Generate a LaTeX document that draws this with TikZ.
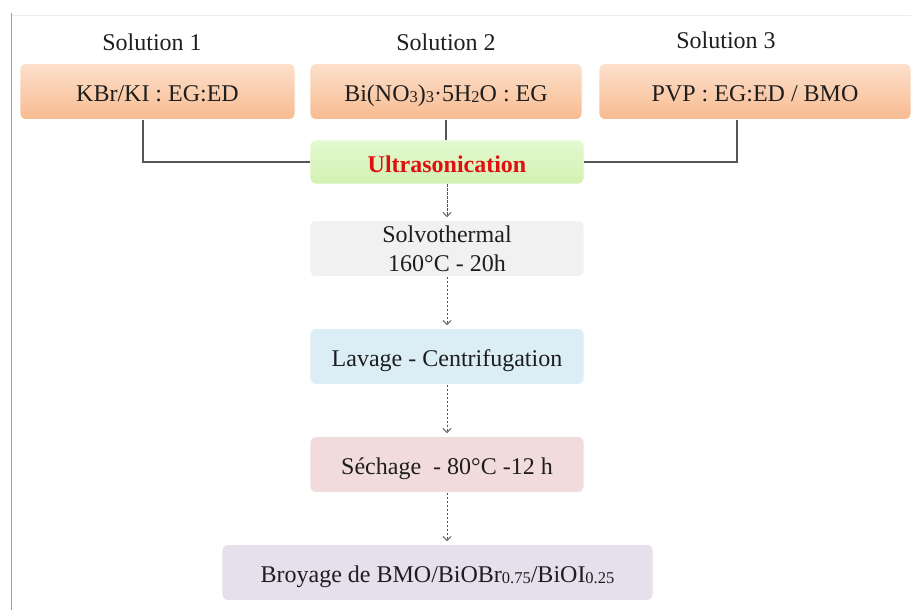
\documentclass[tikz,border=0pt]{standalone}
\usepackage{fontspec}
\setmainfont{Liberation Serif}
\usetikzlibrary{arrows.meta}
\definecolor{orTop}{HTML}{FCE0CC}
\definecolor{orBot}{HTML}{F8BB90}
\definecolor{grTop}{HTML}{E4F9D0}
\definecolor{grBot}{HTML}{D2F1B2}
\definecolor{svFill}{HTML}{F1F1F1}
\definecolor{lvFill}{HTML}{DBEEF5}
\definecolor{seFill}{HTML}{F2DCDB}
\definecolor{brFill}{HTML}{E5E0EC}
\definecolor{txt}{HTML}{1E1E1E}
\definecolor{usRed}{HTML}{E01010}
\definecolor{lineGray}{HTML}{555555}
\newcommand{\lowsub}[1]{\raisebox{-1pt}{\fontsize{16.5}{16.5}\selectfont #1}}
\begin{document}
\begin{tikzpicture}[x=1pt,y=-1pt,
  every node/.style={text=txt,font=\fontsize{24}{29}\selectfont},
  box/.style={rectangle,rounded corners=6pt,draw=white,line width=0.8pt,inner sep=0pt,minimum height=56pt},
  oneline/.style={text height=19.5pt,text depth=0pt},
  orbox/.style={box,oneline,top color=orTop,bottom color=orBot,minimum width=#1},
  flowbox/.style={box,minimum width=274pt},
  lbl/.style={inner sep=0pt},
  conn/.style={draw=lineGray,line width=1.1pt},
  flow/.style={draw=lineGray,line width=0.9pt,dash pattern=on 2.5pt off 1.5pt,-{Straight Barb[length=4pt,width=8pt,line width=0.9pt]},shorten >=3pt}
]
\useasboundingbox (0,0) rectangle (911,610);
\fill[white] (0,0) rectangle (911,610);
% frame lines
\coordinate (ftl) at (11,15);
\coordinate (ftr) at (911,15);
\coordinate (fbl) at (11,610);
\draw[gray!15,line width=0.8pt] (ftl) -- (ftr);
\draw[gray!75,line width=0.9pt] ([yshift=2pt]ftl) -- (fbl);
% solution labels
\node[lbl] (s1) at (152,42) {Solution 1};
\node[lbl] (s2) at (446,42) {Solution 2};
\node[lbl] (s3) at (726,40) {Solution 3};
% solution boxes
\node[orbox=275pt] (b1) at (157.5,91.5) {KBr/KI : EG:ED};
\node[orbox=272pt] (b2) at (446,91.5) {Bi(NO\lowsub{3})\lowsub{3}·5H\lowsub{2}O : EG};
\node[orbox=312pt] (b3) at (755,91.5) {PVP : EG:ED / BMO};
% process boxes
\node[flowbox,oneline,text height=20pt,minimum height=44pt,top color=grTop,bottom color=grBot] (us) at (447,162)
  {\textcolor{usRed}{\textbf{Ultrasonication}}};
\node[flowbox,fill=svFill,align=center,minimum height=56pt] (sv) at (447,248.5) {Solvothermal\\160°C - 20h};
\node[flowbox,oneline,fill=lvFill] (lv) at (447,356.5) {Lavage - Centrifugation};
\node[flowbox,oneline,fill=seFill] (se) at (447,464.5) {Séchage \ - 80°C -12 h};
\node[box,oneline,minimum width=431pt,fill=brFill] (br) at (437.5,572.5)
  {Broyage de BMO/BiOBr\lowsub{0.75}/BiOI\lowsub{0.25}};
% connectors
\draw[conn] ([xshift=-14.5pt]b1.south) |- (us.west);
\draw[conn] (b2.south) -- (b2.south |- us.north);
\draw[conn] ([xshift=-18pt]b3.south) |- (us.east);
\draw[flow] (us.south) -- (us.south |- sv.north);
\draw[flow] (sv.south) -- (sv.south |- lv.north);
\draw[flow] (lv.south) -- (lv.south |- se.north);
\draw[flow] (se.south) -- (se.south |- br.north);
\end{tikzpicture}
\end{document}
